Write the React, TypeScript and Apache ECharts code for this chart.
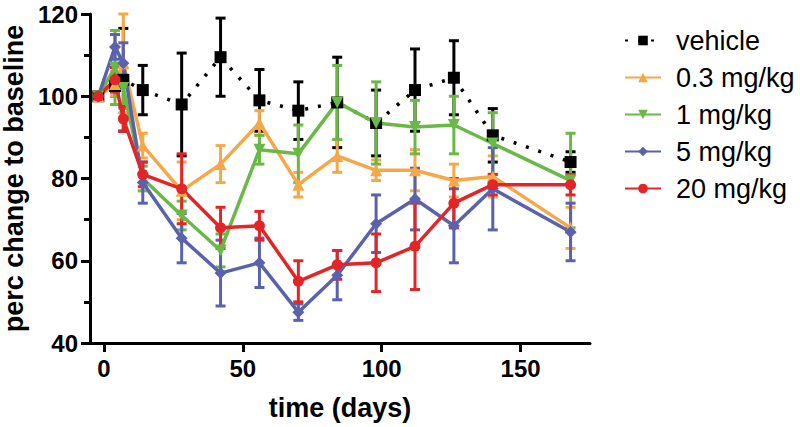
import React, { useEffect, useRef } from "react";
import * as echarts from "echarts";

const days = [-2, 4, 7, 14, 28, 42, 56, 70, 84, 98, 112, 126, 140, 168];

const vehicleMean = [100, 102.5, 104, 101.5, 98, 109.5, 99, 96.5, 98.5, 93.5, 101.5, 104.5, 90.5, 84];
const vehicleErr = [0, 2.5, 12.5, 6, 12.5, 9.5, 7.5, 7, 11, 8, 10, 9, 6.5, 2.5];

const dose03Mean = [100, 103, 108, 88, 77, 83.5, 93.5, 78.5, 85.5, 82, 82, 79.5, 80.5, 68];
const dose03Err = [0, 3, 12, 3, 7, 4.5, 3, 3, 4, 2.5, 5, 4, 5, 5];

const dose1Mean = [100, 107, 102, 80, 71, 62.5, 87, 86, 98.5, 93.5, 92.5, 93, 88.5, 79.5];
const dose1Err = [0, 9, 5, 3, 3.5, 4, 3.5, 7, 9, 10, 6.5, 7, 7.5, 11.5];

const dose5Mean = [100, 112, 108, 79, 65.5, 57, 59.5, 47.5, 56.5, 69, 75, 68.5, 77.5, 67];
const dose5Err = [0, 3, 5, 5, 6, 8, 6, 2, 6, 7, 7.5, 9, 10, 7];

const dose20Mean = [100, 104, 94.5, 81, 77.5, 68, 68.5, 55, 59, 59.5, 63.5, 74, 78.5, 78.5];
const dose20Err = [0, 3, 3, 3, 8.5, 5, 3.5, 5, 3.5, 7, 10.5, 6, 2.5, 2.5];

const xTicks = [0, 50, 100, 150];

const groups = [
  { name: "vehicle", mean: vehicleMean, err: vehicleErr, color: "#000000", symbol: "rect", rotate: 0, dotted: true },
  { name: "0.3 mg/kg", mean: dose03Mean, err: dose03Err, color: "#F5A847", symbol: "triangle", rotate: 0, dotted: false },
  { name: "1 mg/kg", mean: dose1Mean, err: dose1Err, color: "#6AB946", symbol: "triangle", rotate: 180, dotted: false },
  { name: "5 mg/kg", mean: dose5Mean, err: dose5Err, color: "#5A62AE", symbol: "diamond", rotate: 0, dotted: false },
  { name: "20 mg/kg", mean: dose20Mean, err: dose20Err, color: "#E42528", symbol: "circle", rotate: 0, dotted: false },
];

const FONT = "'Liberation Sans', Arial, Helvetica, sans-serif";

export default function App() {
  const ref = useRef<HTMLDivElement>(null);
  useEffect(() => {
    if (!ref.current) return;
    const chart = echarts.init(ref.current, null, { renderer: "svg" });
    const series: any[] = [];
    groups.forEach((g) => {
      const errData = days
        .map((d, i) => [d, g.mean[i] - g.err[i], g.mean[i] + g.err[i]])
        .filter((_, i) => g.err[i] > 0);
      series.push({
        type: "custom",
        name: g.name + " err",
        data: errData,
        encode: { x: 0, y: [1, 2] },
        renderItem: (params: any, api: any) => {
          const x = api.value(0);
          const lo = api.coord([x, api.value(1)]);
          const hi = api.coord([x, api.value(2)]);
          const half = 5;
          const style = { stroke: g.color, lineWidth: 3, fill: "none" };
          return {
            type: "group",
            children: [
              { type: "line", shape: { x1: hi[0], y1: hi[1], x2: lo[0], y2: lo[1] }, style },
              { type: "line", shape: { x1: hi[0] - half, y1: hi[1], x2: hi[0] + half, y2: hi[1] }, style },
              { type: "line", shape: { x1: lo[0] - half, y1: lo[1], x2: lo[0] + half, y2: lo[1] }, style },
            ],
          };
        },
      });
      series.push({
        type: "line",
        name: g.name,
        data: days.map((d, i) => [d, g.mean[i]]),
        symbol: g.symbol,
        symbolRotate: g.rotate,
        symbolSize: g.symbol === "circle" ? 11 : 12,
        showAllSymbol: true,
        itemStyle: { color: g.color },
        lineStyle: g.dotted
          ? { color: g.color, width: 3.5, type: [3, 10] }
          : { color: g.color, width: 3.5 },
      });
    });

    chart.setOption({
      animation: false,
      backgroundColor: "#ffffff",
      grid: { left: 90, right: 210, top: 14, bottom: 84, outerBoundsMode: "none", containLabel: false },
      legend: {
        data: groups.map((g) => g.name),
        orient: "vertical",
        left: 619,
        top: 22,
        itemWidth: 36,
        itemHeight: 12,
        itemGap: 10,
        textStyle: { fontSize: 27, fontFamily: FONT, color: "#000", padding: [0, 0, 0, 10] },
      },
      xAxis: {
        type: "value",
        min: -5,
        max: 175,
        name: "time (days)",
        nameLocation: "middle",
        nameGap: 51,
        nameTextStyle: { fontSize: 27, fontWeight: "bold", fontFamily: FONT, color: "#000" },
        axisLine: { show: true, onZero: false, lineStyle: { color: "#000", width: 3 } },
        axisTick: { show: true, length: 9, customValues: xTicks, lineStyle: { color: "#000", width: 3 } },
        axisLabel: { customValues: xTicks, fontSize: 24, fontWeight: "bold", fontFamily: FONT, color: "#000", margin: 13 },
        splitLine: { show: false },
      },
      yAxis: {
        type: "value",
        min: 40,
        max: 120,
        interval: 20,
        name: "perc change to baseline",
        nameLocation: "middle",
        nameGap: 56,
        nameTextStyle: { fontSize: 27, fontWeight: "bold", fontFamily: FONT, color: "#000" },
        axisLine: { show: true, onZero: false, lineStyle: { color: "#000", width: 3 } },
        axisTick: { show: true, length: 9, lineStyle: { color: "#000", width: 3 } },
        minorTick: { show: true, splitNumber: 2, length: 6, lineStyle: { color: "#000", width: 3 } },
        axisLabel: { fontSize: 24, fontWeight: "bold", fontFamily: FONT, color: "#000", margin: 12 },
        splitLine: { show: false },
      },
      series,
    });
    return () => chart.dispose();
  }, []);
  return (
    <div
      ref={ref}
      style={{ position: "fixed", left: 0, top: 0, width: 800, height: 427, background: "#fff" }}
    />
  );
}
